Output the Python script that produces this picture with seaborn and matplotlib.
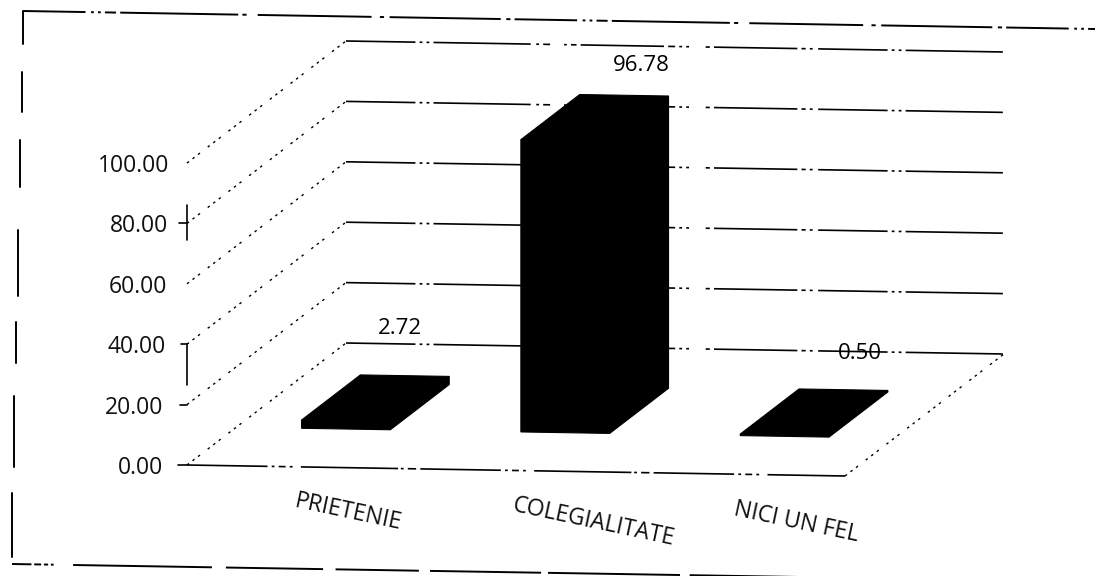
import matplotlib
matplotlib.use("Agg")
import matplotlib.pyplot as plt
import pandas as pd
import seaborn as sns
from matplotlib.lines import Line2D
from matplotlib.patches import Polygon
from matplotlib.transforms import Affine2D, IdentityTransform

# ---- data
categories = ["PRIETENIE", "COLEGIALITATE", "NICI UN FEL"]
values = [2.72, 96.78, 0.50]
value_labels = ["2.72", "96.78", "0.50"]
y_ticks = [0, 20, 40, 60, 80, 100]

# ---- layout
W, H = 1095, 576
LEFT, RIGHT, BASE, TOP = 187, 845, 465, 163
DEPTH_X, DEPTH_Y = 159, 122      # floor depth in pixels
TILT = 11 / 658                  # slope of the scanned page
BAR_D0, BAR_D1 = 0.31, 0.68
label_offsets = [(-5, 47), (17, 30), (16, 36)]
xlabel_offsets = [(52, -47), (78, -57), (61, -57)]
ylabel_shifts = [-7, -6, -4, -3, -2, 0]   # for 0.00 up to 100.00

sns.set_theme(style="white")
plt.rcParams["font.family"] = ["Open Sans", "DejaVu Sans"]
plt.rcParams["lines.scale_dashes"] = False

fig = plt.figure(figsize=(W / 100, H / 100), dpi=100, facecolor="white")
ax = fig.add_axes([LEFT / W, (H - BASE) / H, (RIGHT - LEFT) / W, (BASE - TOP) / H])
ax.patch.set_alpha(0)

df = pd.DataFrame({"cat": categories, "val": values})
sns.barplot(data=df, x="cat", y="val", color="black", saturation=1, width=0.405, ax=ax, zorder=5)
ax.set_xlim(-0.5, 2.5)
ax.set_ylim(0, 100)
ax.set_xlabel("")
ax.set_ylabel("")
sns.despine(ax=ax, left=True, bottom=True)

shear = Affine2D.from_values(1, -TILT, 0, 1, 0, TILT * LEFT)


def proj(d):
    return ax.transData + shear + Affine2D().translate(DEPTH_X * d, DEPTH_Y * d)


def pt(x, v, d):
    return proj(d).transform((x, v))


def pline(a, b, style, lw=1.0, z=1):
    ax.plot([a[0], b[0]], [a[1], b[1]], color="black", lw=lw, ls=style,
            transform=IdentityTransform(), clip_on=False, zorder=z)


grid_dash = (0, (50, 3, 2, 3, 2, 3, 70, 4, 2, 3, 5, 10, 2, 3, 4, 3, 60, 3, 5, 3, 2, 3, 2, 12,
                 3, 3, 60, 3, 3, 3, 2, 4))
wall_dots = (0, (1.8, 3.2, 1.8, 3.2, 1.8, 7))
floor_dash = (0, (58, 3, 2, 3, 5, 3, 2, 6, 70, 2, 2, 3, 6, 3))

for v in y_ticks:
    wall_start = pt(-0.5, v, 0)
    wall_end = pt(-0.5, v, 1)
    right_end = pt(2.5, v, 1)
    pline(wall_start, wall_end, wall_dots, lw=1.0)
    pline(wall_end, right_end, grid_dash, lw=1.2)

pline(pt(-0.5, 0, 0), pt(2.5, 0, 0), floor_dash, lw=1.2)
pline(pt(2.5, 0, 0), pt(2.5, 0, 1), wall_dots, lw=1.0)

# front faces come from seaborn; side and top faces are extruded from them
for bar in list(ax.patches):
    x0, x1 = bar.get_x(), bar.get_x() + bar.get_width()
    h = bar.get_height()
    bar.set_transform(proj(BAR_D0))
    bar.set_clip_on(False)
    bar.set_edgecolor("black")
    bar.set_linewidth(0.8)
    top_face = [pt(x0, h, BAR_D0), pt(x1, h, BAR_D0), pt(x1, h, BAR_D1), pt(x0, h, BAR_D1)]
    side_face = [pt(x1, 0, BAR_D0), pt(x1, 0, BAR_D1), pt(x1, h, BAR_D1), pt(x1, h, BAR_D0)]
    for face in (top_face, side_face):
        ax.add_patch(Polygon(face, closed=True, fc="black", ec="black", lw=0.8,
                             transform=IdentityTransform(), clip_on=False, zorder=5))

# value labels
for i, (v, txt, off) in enumerate(zip(values, value_labels, label_offsets)):
    px = pt(i, v, BAR_D1)
    ax.annotate(txt, xy=px, xycoords=IdentityTransform(), xytext=(px[0] + off[0], px[1] + off[1]),
                textcoords=IdentityTransform(), ha="center", va="center",
                fontsize=16, color="black", zorder=0, annotation_clip=False)

# axes ticks and labels
ax.set_yticks(y_ticks)
ax.set_yticklabels([f"{t:.2f}" for t in y_ticks], fontsize=16.5, color="#111111")
ax.tick_params(axis="y", length=0, pad=12.5)
for lab, shift in zip(ax.get_yticklabels(), ylabel_shifts):
    lab.set_transform(lab.get_transform() + Affine2D().translate(shift, 0))
ax.set_xticks(range(len(categories)))
ax.set_xticklabels(categories, fontsize=16.5, color="#111111")
ax.tick_params(axis="x", length=0, pad=0)
for lab, off in zip(ax.get_xticklabels(), xlabel_offsets):
    lab.set_rotation(-12)
    lab.set_ha("center")
    lab.set_va("center")
    lab.set_transform(lab.get_transform() + Affine2D().translate(*off))

# broken remains of the value axis
ax.plot([-0.5, -0.5], [74.5, 86], color="black", lw=1.2, zorder=2, clip_on=False)
ax.plot([-0.5, -0.5], [26.5, 40], color="black", lw=1.2, zorder=2, clip_on=False)
for v, length in [(80, 8), (40, 6), (20, 7), (0, 9)]:
    p = pt(-0.5, v, 0)
    pline((p[0] - length, p[1]), p, "-", lw=1.2, z=2)


def frame(points, style="-"):
    xs = [p[0] for p in points]
    ys = [H - p[1] for p in points]
    fig.add_artist(Line2D(xs, ys, color="black", lw=1.4, ls=style, transform=IdentityTransform()))


# outer frame of the scanned chart, with its gaps
top_dash = (0, (45, 4, 2, 3, 2, 3, 8, 3, 85, 3, 3, 8, 82, 6, 3, 4, 80, 4, 3, 3))
bottom_dash = (0, (14, 2, 5, 2, 3, 2, 2, 14, 100, 10, 70, 9, 60, 8, 80, 5, 95, 7, 110, 16))
frame([(23, 11), (1095, 29)], top_dash)
frame([(12, 564), (800, 577)], bottom_dash)
for x, y0, y1 in [(23, 11, 44), (22, 72, 112), (20, 140, 187), (18, 230, 296),
                  (16, 322, 363), (14, 396, 467), (12, 493, 557)]:
    frame([(x, y0), (x, y1)])

fig.savefig("out.png", dpi=100, facecolor="white")
